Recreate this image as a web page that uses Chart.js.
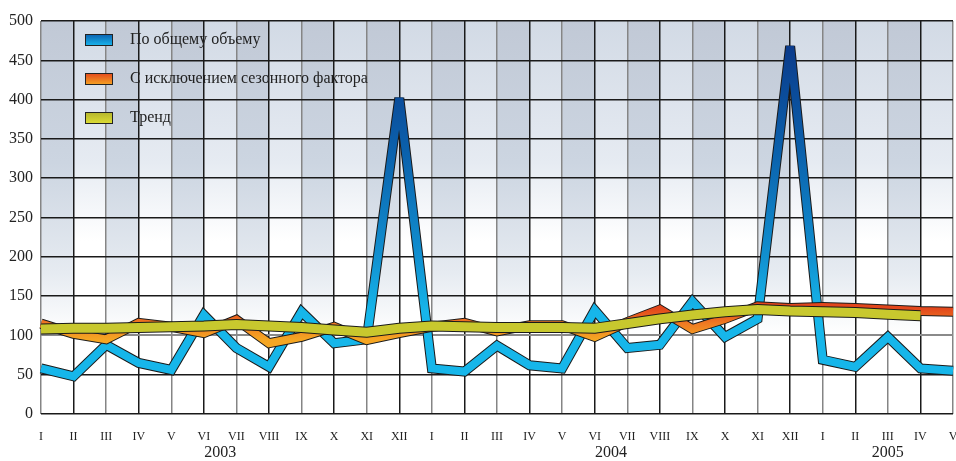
<!DOCTYPE html>
<html>
<head>
<meta charset="utf-8">
<script src="https://cdn.jsdelivr.net/npm/chart.js@4/dist/chart.umd.min.js"></script>
<style>
  html, body { margin: 0; padding: 0; background: #fff; }
  #wrap { position: relative; width: 956px; height: 461px; }
</style>
</head>
<body>
<div id="wrap"><canvas id="volumeChart" width="956" height="461"></canvas></div>
<script>
// months I..XII for 2003, 2004 and I..V for 2005
const months = ['I','II','III','IV','V','VI','VII','VIII','IX','X','XI','XII',
                'I','II','III','IV','V','VI','VII','VIII','IX','X','XI','XII',
                'I','II','III','IV','V'];
const years = ['2003', '2004', '2005'];
const yearPos = [5.5, 17.5, 26];   // category position under which each year sits
const yTicks = [0, 50, 100, 150, 200, 250, 300, 350, 400, 450, 500];

const totalVolume = [58, 48, 88, 65, 56, 126, 84, 60, 130, 90, 95, 402,
                     58, 54, 87, 62, 58, 132, 84, 88, 143, 98, 121, 468,
                     69, 60, 98, 58, 55];
const seasonAdj = [115, 102, 95, 116, 111, 103, 120, 90, 98, 111, 94, 103,
                   111, 116, 105, 113, 113, 98, 117, 133, 108, 121, 137, 135,
                   136, 135, 133, 131, 130];
const trend = [108, 109, 109, 110, 111, 112, 114, 112, 110, 107, 104, 109,
               112, 111, 110, 110, 110, 109, 115, 121, 126, 130, 133, 131,
               130, 129, 127, 125, null];

const seriesNames = ['По общему объему', 'С исключением сезонного фактора', 'Тренд'];

const serif = '"Liberation Serif", "DejaVu Serif", serif';

function vGradient(chart, stops) {
    const { ctx, chartArea, scales } = chart;
    if (!chartArea) return null;
    const y = scales.y;
    const g = ctx.createLinearGradient(0, y.getPixelForValue(stops[0][0]), 0, y.getPixelForValue(stops[stops.length - 1][0]));
    const span = stops[stops.length - 1][0] - stops[0][0];
    stops.forEach(s => g.addColorStop((s[0] - stops[0][0]) / span, s[1]));
    return g;
}

const blueStops = [[130, '#16b6ea'], [200, '#1190d0'], [330, '#0b62ad'], [470, '#0b3a8a']];
const orangeStops = [[95, '#f5a623'], [115, '#ef7a22'], [135, '#e2461c']];

const columnShade = {
    id: 'columnShade',
    beforeDraw(chart) {
        const { ctx, chartArea, scales } = chart;
        const x = scales.x, y = scales.y;
        ctx.save();
        for (let i = 0; i < months.length - 1; i++) {
            const x0 = x.getPixelForValue(i), x1 = x.getPixelForValue(i + 1);
            const g = ctx.createLinearGradient(0, chartArea.top, 0, y.getPixelForValue(100));
            if (i % 2 === 0) {
                g.addColorStop(0, '#c1c9d6');
                g.addColorStop(0.45, '#ccd5e1');
                g.addColorStop(0.8, '#e6ebf1');
                g.addColorStop(1, '#ffffff');
            } else {
                g.addColorStop(0, '#d2dae5');
                g.addColorStop(0.45, '#e6ebf2');
                g.addColorStop(0.7, '#ffffff');
                g.addColorStop(1, '#ffffff');
            }
            ctx.fillStyle = g;
            ctx.fillRect(x0, chartArea.top, x1 - x0, chartArea.bottom - chartArea.top);
        }
        ctx.restore();
    },
    // sharp peaks get a flat (bevelled) top like in the original
    beforeDatasetsDraw(chart) {
        chart.ctx.save();
        chart.ctx.miterLimit = 4;
    },
    afterDatasetsDraw(chart) {
        chart.ctx.restore();
    }
};

const legendAndYears = {
    id: 'legendAndYears',
    afterDraw(chart) {
        const { ctx, scales } = chart;
        ctx.save();
        // legend
        const fills = [
            ['#0a5fae', '#1ab8ee'],
            ['#e2461c', '#f5a623'],
            ['#b4b42c', '#dede34']
        ];
        seriesNames.forEach((name, i) => {
            const top = 34 + i * 39;
            const g = ctx.createLinearGradient(0, top, 0, top + 12);
            g.addColorStop(0, fills[i][0]);
            g.addColorStop(1, fills[i][1]);
            ctx.fillStyle = g;
            ctx.fillRect(85, top, 28, 12);
            ctx.strokeStyle = '#222';
            ctx.lineWidth = 1;
            ctx.strokeRect(85.5, top + 0.5, 27, 11);
            ctx.fillStyle = '#222';
            ctx.font = '16px ' + serif;
            ctx.textBaseline = 'middle';
            ctx.textAlign = 'left';
            ctx.fillText(name, 130, top + 6);
        });
        // years
        ctx.font = '16px ' + serif;
        ctx.textAlign = 'center';
        ctx.textBaseline = 'middle';
        ctx.fillStyle = '#222';
        years.forEach((yr, i) => {
            ctx.fillText(yr, scales.x.getPixelForValue(yearPos[i]), 453);
        });
        ctx.restore();
    }
};

function lineSet(data, color, width, order) {
    return {
        data: data,
        borderColor: color,
        borderWidth: width,
        pointRadius: 0,
        tension: 0,
        fill: false,
        borderJoinStyle: 'miter',
        borderCapStyle: 'butt',
        spanGaps: false,
        order: order
    };
}

const ctx = document.getElementById('volumeChart').getContext('2d');
new Chart(ctx, {
    type: 'line',
    data: {
        labels: months,
        datasets: [
            lineSet(trend, '#c8c82e', 9, 1),
            lineSet(trend, '#1a1a1a', 11, 2),
            lineSet(seasonAdj, c => vGradient(c.chart, orangeStops), 8, 3),
            lineSet(seasonAdj, '#1a1a1a', 10, 4),
            lineSet(totalVolume, c => vGradient(c.chart, blueStops), 8, 5),
            lineSet(totalVolume, '#1a1a1a', 10, 6)
        ]
    },
    options: {
        responsive: false,
        animation: false,
        layout: { padding: { top: 21, right: 3, left: 0, bottom: 0 } },
        plugins: {
            legend: { display: false },
            tooltip: { enabled: false }
        },
        scales: {
            x: {
                offset: false,
                grid: {
                    color: c => (c.index % 2 === 0 ? '#858585' : '#1a1a1a'),
                    lineWidth: 1.5,
                    drawTicks: false
                },
                border: { display: false },
                ticks: {
                    autoSkip: false,
                    maxRotation: 0,
                    padding: 16,
                    color: '#222',
                    font: { family: serif, size: 12 }
                },
                afterFit(scale) {
                    scale.height = 47;
                    scale.paddingLeft = 0;
                    scale.paddingRight = 0;
                }
            },
            y: {
                min: 0,
                max: 500,
                afterBuildTicks(scale) {
                    scale.ticks = yTicks.map(v => ({ value: v }));
                },
                grid: {
                    color: c => (c.tick && c.tick.value === 100 ? '#8a8a8a' : '#1a1a1a'),
                    lineWidth: c => (c.tick && c.tick.value === 100 ? 2 : 1.5),
                    drawTicks: false
                },
                border: { display: false },
                ticks: {
                    padding: 8,
                    color: '#222',
                    font: { family: serif, size: 16 }
                },
                afterFit(scale) {
                    scale.width = 41;
                }
            }
        }
    },
    plugins: [columnShade, legendAndYears]
});
</script>
</body>
</html>
